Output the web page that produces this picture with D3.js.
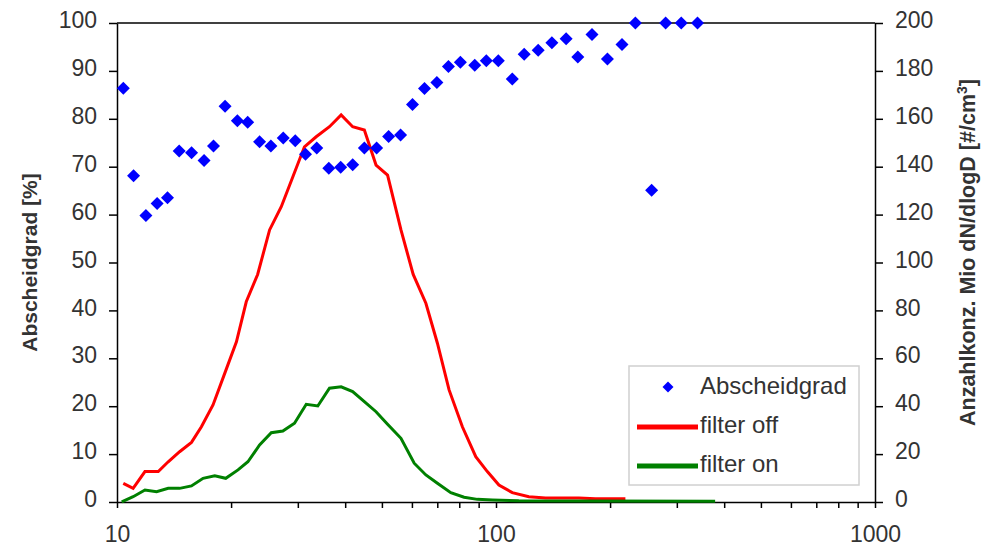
<!DOCTYPE html>
<html>
<head>
<meta charset="utf-8">
<script src="https://cdn.jsdelivr.net/npm/d3@7"></script>
<style>
    body { margin: 0; background: #fff; }
    text { font-family: "Liberation Sans", Arial, sans-serif; }
</style>
</head>
<body>
<svg></svg>
<script>
// particle diameter of each Abscheidgrad point
const abschX = [10.39, 11.06, 11.92, 12.76, 13.59, 14.59, 15.73, 16.97, 17.97, 19.28,
    20.78, 22.12, 23.78, 25.47, 27.46, 29.53, 31.43, 33.66, 36.21, 38.93,
    41.86, 44.94, 48.42, 52.08, 56.01, 60.22, 64.76, 69.83, 74.91, 80.55,
    87.88, 94.30, 101.4, 110.4, 118.7, 129.2, 140.4, 153.1, 164.4, 179.2,
    196.8, 215.0, 233.2, 257.4, 280.3, 308.2, 340.1];
// Abscheidgrad in %
const abschY = [86.4, 68.1, 59.8, 62.3, 63.5, 73.3, 72.9, 71.3, 74.3, 82.6,
    79.6, 79.3, 75.2, 74.3, 76.0, 75.4, 72.6, 73.9, 69.7, 69.9,
    70.4, 73.9, 73.9, 76.3, 76.6, 83.0, 86.3, 87.6, 90.9, 91.8,
    91.2, 92.1, 92.1, 88.3, 93.5, 94.3, 95.9, 96.7, 92.9, 97.6,
    92.5, 95.5, 100, 65.1, 100, 100, 100];
// filter off curve (right axis)
const offX = [10.39, 11.03, 11.85, 12.85, 13.65, 14.63, 15.72, 16.70, 17.92, 19.46,
    20.66, 21.93, 23.50, 25.27, 27.13, 29.11, 31.23, 33.54, 36.36, 39.03,
    41.86, 44.94, 48.25, 51.75, 56.14, 60.47, 65.31, 70.05, 75.20, 81.52,
    88.43, 94.87, 101.8, 110.4, 122.1, 135.1, 165.4, 183.0, 219.5];
const offY = [7.8, 5.7, 12.7, 12.7, 16.8, 21, 24.9, 31.4, 40.5, 55.8,
    66.9, 83.6, 95, 113.6, 123.3, 135.8, 148.3, 152.5, 156.7, 161.6,
    156.7, 155.3, 140.7, 136.5, 113.6, 95, 83, 66.3, 46.8, 31.4,
    18.9, 12.7, 7.1, 3.9, 2.2, 1.7, 1.7, 1.4, 1.4];
// filter on curve (right axis)
const onX = [10.29, 11.03, 11.85, 12.72, 13.65, 14.63, 15.72, 16.87, 18.11, 19.36,
    20.86, 22.15, 23.78, 25.53, 27.39, 29.40, 31.57, 33.87, 36.36, 39.03,
    41.86, 44.94, 48.25, 51.75, 56.14, 60.84, 65.31, 70.05, 75.99, 82.37,
    89.30, 97.79, 114.9, 186.7, 378.6];
const onY = [0.1, 2.2, 5.0, 4.3, 5.7, 5.7, 6.7, 9.9, 10.9, 9.9,
    13.4, 16.8, 23.8, 28.9, 29.6, 32.9, 40.8, 40.1, 47.5, 48.1,
    46.1, 41.9, 37.7, 32.5, 26.6, 16.2, 11.3, 7.8, 3.9, 2.0,
    1.1, 0.8, 0.5, 0.4, 0.3];
// ticks
const xTicks = [10, 20, 30, 40, 50, 60, 70, 80, 90, 100, 200, 300, 400, 500, 600, 700, 800, 900, 1000],
    xLabels = [10, 100, 1000],
    leftTicks = [0, 10, 20, 30, 40, 50, 60, 70, 80, 90, 100],
    rightTicks = [0, 20, 40, 60, 80, 100, 120, 140, 160, 180, 200];

const svg = d3.select('svg')
    .attr('width', 994)
    .attr('height', 550);

// plot area edges
const plotL = 117, plotR = 875, plotT = 23, plotB = 502,
    labelColor = '#333',
    font = 23;

const x = d3.scaleLog().domain([10, 1000]).range([plotL, plotR]),
    yL = d3.scaleLinear().domain([0, 100]).range([plotB, plotT]),
    yR = d3.scaleLinear().domain([0, 200]).range([plotB, plotT]);

// top border of the plot area
svg.append('line')
    .attr('x1', plotL).attr('x2', plotR)
    .attr('y1', plotT).attr('y2', plotT)
    .attr('stroke', '#000').attr('stroke-width', 1.5);

function styleAxis(g) {
    g.select('.domain').attr('stroke', '#000').attr('stroke-width', 1.5);
    g.selectAll('.tick line').attr('stroke', '#000').attr('stroke-width', 1.5);
    g.selectAll('.tick text')
        .attr('fill', labelColor)
        .style('font-size', font + 'px');
}

// left axis
svg.append('g')
    .attr('transform', `translate(${plotL},0)`)
    .call(d3.axisLeft(yL).tickValues(leftTicks).tickSize(8).tickSizeOuter(0).tickPadding(12))
    .call(styleAxis)
    .call(g => g.selectAll('.tick text').attr('dy', '0.2em'));

// right axis
svg.append('g')
    .attr('transform', `translate(${plotR},0)`)
    .call(d3.axisRight(yR).tickValues(rightTicks).tickSize(8).tickSizeOuter(0).tickPadding(12))
    .call(styleAxis)
    .call(g => g.selectAll('.tick text').attr('dy', '0.2em'));

// bottom axis, labels only on decades
svg.append('g')
    .attr('transform', `translate(0,${plotB})`)
    .call(d3.axisBottom(x).tickValues(xTicks).tickSize(6).tickSizeOuter(0).tickPadding(18)
        .tickFormat(d => xLabels.includes(d) ? d : ''))
    .call(styleAxis);

// axis titles
svg.append('text')
    .attr('transform', `translate(37,${(plotT + plotB) / 2}) rotate(-90)`)
    .attr('text-anchor', 'middle')
    .style('font-size', '21px')
    .style('font-weight', 'bold')
    .attr('fill', labelColor)
    .text('Abscheidgrad [%]');

const rTitle = svg.append('text')
    .attr('transform', `translate(975,${(plotT + plotB) / 2 - 10}) rotate(-90)`)
    .attr('text-anchor', 'middle')
    .style('font-size', '21.5px')
    .style('font-weight', 'bold')
    .attr('fill', labelColor);
rTitle.append('tspan').text('Anzahlkonz. Mio dN/dlogD [#/cm');
rTitle.append('tspan').attr('dy', -8).style('font-size', '14px').text('3');
rTitle.append('tspan').attr('dy', 8).text(']');

// lines
const line = d3.line().x(d => x(d[0])).y(d => yR(d[1]));

svg.append('path')
    .datum(offX.map((d, i) => [d, offY[i]]))
    .attr('d', line)
    .attr('fill', 'none')
    .attr('stroke', '#ff0000')
    .attr('stroke-width', 3);

svg.append('path')
    .datum(onX.map((d, i) => [d, onY[i]]))
    .attr('d', line)
    .attr('fill', 'none')
    .attr('stroke', '#008000')
    .attr('stroke-width', 3);

// diamonds
const diamond = 'M0,-6.5L6.5,0L0,6.5L-6.5,0Z';
svg.append('g')
    .selectAll('path')
    .data(abschX.map((d, i) => [d, abschY[i]]))
    .join('path')
    .attr('d', diamond)
    .attr('transform', d => `translate(${x(d[0])},${yL(d[1])})`)
    .attr('fill', '#0000ff');

// legend
const legend = svg.append('g').attr('transform', 'translate(629,366)');
legend.append('rect')
    .attr('width', 230).attr('height', 119)
    .attr('fill', '#fff')
    .attr('stroke', '#d0d0d0')
    .attr('stroke-width', 1.5);
legend.append('path')
    .attr('d', diamond)
    .attr('transform', 'translate(39,21) scale(0.85)')
    .attr('fill', '#0000ff');
legend.append('line')
    .attr('x1', 8).attr('x2', 69).attr('y1', 61).attr('y2', 61)
    .attr('stroke', '#ff0000').attr('stroke-width', 5);
legend.append('line')
    .attr('x1', 8).attr('x2', 69).attr('y1', 100).attr('y2', 100)
    .attr('stroke', '#008000').attr('stroke-width', 5);
const legendLabels = ['Abscheidgrad', 'filter off', 'filter on'];
legend.selectAll('text.lab')
    .data(legendLabels)
    .join('text')
    .attr('class', 'lab')
    .attr('x', 71)
    .attr('y', (d, i) => 28 + i * 39)
    .style('font-size', '24px')
    .attr('fill', labelColor)
    .text(d => d);
</script>
</body>
</html>
